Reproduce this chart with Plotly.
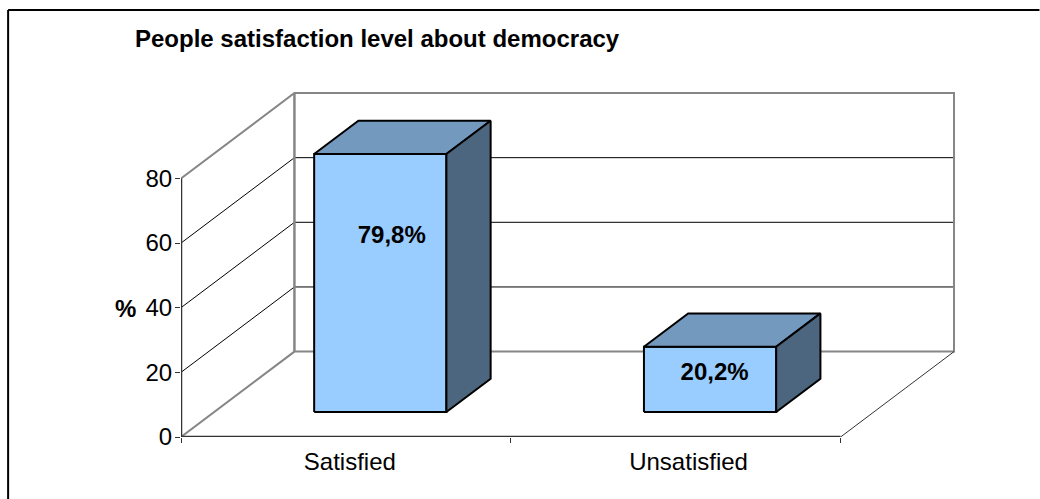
import plotly.graph_objects as go

categories = ["Satisfied", "Unsatisfied"]
values = [79.8, 20.2]
label_texts = ["79,8%", "20,2%"]
y_ticks = [0, 20, 40, 60, 80]
title_text = "People satisfaction level about democracy"

# projection of the pseudo-3D box (axis units)
X_UNIT = 330.0
Y_UNIT = 3.229
DX = 113.5 / X_UNIT
DY = 85.3 / Y_UNIT
BAR_LEFT = 0.303
BAR_WIDTH = 0.401
Z_FRONT = 0.293
Z_DEPTH = 0.39

label_pos_x = [0.639, 1.618]
label_pos_y = [62.0, 19.5]
cat_label_x = [0.512, 1.539]

GRAY = "#868686"
BLACK = "#000000"
DARK = "#333333"
FONT = "Liberation Sans, Arial, sans-serif"
FS = 24
PAD = 6.0


def p(x, y, z):
    return x + DX * z, y + DY * z


def line(pts, color, width):
    xs, ys = zip(*pts)
    return go.Scatter(x=xs, y=ys, mode="lines", line=dict(color=color, width=width),
                      hoverinfo="skip", showlegend=False, cliponaxis=False)


def poly(pts, fill):
    pts = pts + [pts[0]]
    xs, ys = zip(*pts)
    return go.Scatter(x=xs, y=ys, mode="lines", fill="toself", fillcolor=fill,
                      line=dict(color=BLACK, width=2), hoverinfo="skip",
                      showlegend=False, cliponaxis=False)


fig = go.Figure()
n = len(categories)
top = max(y_ticks)

# gridlines on side and back wall
for v in y_ticks[1:-1]:
    fig.add_trace(line([p(0, v, 0), p(0, v, 1), p(n, v, 1)], BLACK, 1))
# walls and floor
fig.add_trace(line([p(0, top, 0), p(0, top, 1), p(n, top, 1), p(n, 0, 1), p(0, 0, 1), p(0, 0, 0)], GRAY, 2))
fig.add_trace(line([p(0, 0, 1), p(0, top, 1)], GRAY, 2.5))
fig.add_trace(line([p(n, 0, 0), p(n, 0, 1)], DARK, 1))
# axes
fig.add_trace(line([(0, 0), (0, top)], DARK, 2.5))
fig.add_trace(line([(0, 0), (n, 0)], DARK, 2.5))

# bars
for i, v in enumerate(values):
    x0 = i + BAR_LEFT
    x1 = x0 + BAR_WIDTH
    z0 = Z_FRONT
    z1 = Z_FRONT + Z_DEPTH
    fig.add_trace(poly([p(x0, 0, z0), p(x1, 0, z0), p(x1, v, z0), p(x0, v, z0)], "#99CCFF"))
    fig.add_trace(poly([p(x0, v, z0), p(x1, v, z0), p(x1, v, z1), p(x0, v, z1)], "#7399BF"))
    fig.add_trace(poly([p(x1, 0, z0), p(x1, 0, z1), p(x1, v, z1), p(x1, v, z0)], "#4D667F"))

# value labels
fig.add_trace(go.Scatter(x=label_pos_x, y=label_pos_y, mode="text", text=label_texts,
                         textposition="middle center",
                         textfont=dict(family=FONT, size=FS, color=BLACK),
                         texttemplate="<b>%{text}</b>", hoverinfo="skip",
                         showlegend=False, cliponaxis=False))

plot_w = X_UNIT * n + 113.5 + PAD
plot_h = Y_UNIT * top + 85.3 + PAD
L, T = 181.0, 93.0 - PAD

fig.update_layout(
    width=1040, height=499, autosize=False,
    margin=dict(l=L, r=1040 - L - plot_w, t=T, b=499 - T - plot_h, pad=0),
    paper_bgcolor="white", plot_bgcolor="white",
    font=dict(family=FONT, size=FS, color=BLACK),
    xaxis=dict(range=[0, plot_w / X_UNIT], showgrid=False, zeroline=False, showline=False,
               tickmode="array", tickvals=cat_label_x, ticktext=categories, ticks="",
               tickfont=dict(family=FONT, size=FS, color=BLACK), ticklabelstandoff=8,
               minor=dict(tickmode="array", tickvals=list(range(n + 1)), ticks="outside",
                          ticklen=5, tickwidth=1, tickcolor=DARK, showgrid=False)),
    yaxis=dict(range=[0, plot_h / Y_UNIT], showgrid=False, zeroline=False, showline=False,
               tickmode="array", tickvals=y_ticks, ticks="outside", ticklen=5, tickwidth=1,
               tickcolor=DARK, tickfont=dict(family=FONT, size=FS, color=BLACK),
               ticklabelstandoff=-2),
    annotations=[
        dict(text="<b>%s</b>" % title_text, xref="paper", yref="paper",
             x=(133 - L) / plot_w, y=(T + plot_h - 39) / plot_h, xanchor="left", yanchor="middle",
             showarrow=False, font=dict(family=FONT, size=FS, color=BLACK)),
        dict(text="<b>%</b>", xref="paper", yref="paper",
             x=(125 - L) / plot_w, y=(T + plot_h - 308) / plot_h, xanchor="center", yanchor="middle",
             showarrow=False, font=dict(family=FONT, size=FS, color=BLACK)),
    ],
    shapes=[
        dict(type="line", xref="paper", yref="paper", x0=(8 - L) / plot_w, x1=(1040 - L) / plot_w,
             y0=(T + plot_h - 10) / plot_h, y1=(T + plot_h - 10) / plot_h,
             line=dict(color=BLACK, width=2)),
        dict(type="line", xref="paper", yref="paper", x0=(8 - L) / plot_w, x1=(8 - L) / plot_w,
             y0=(T + plot_h - 10) / plot_h, y1=(T + plot_h - 499) / plot_h,
             line=dict(color=BLACK, width=2)),
    ],
)

fig.write_html("out.html", config=dict(displayModeBar=False),
               post_script="document.body.style.margin='0';document.body.style.overflow='hidden';")
